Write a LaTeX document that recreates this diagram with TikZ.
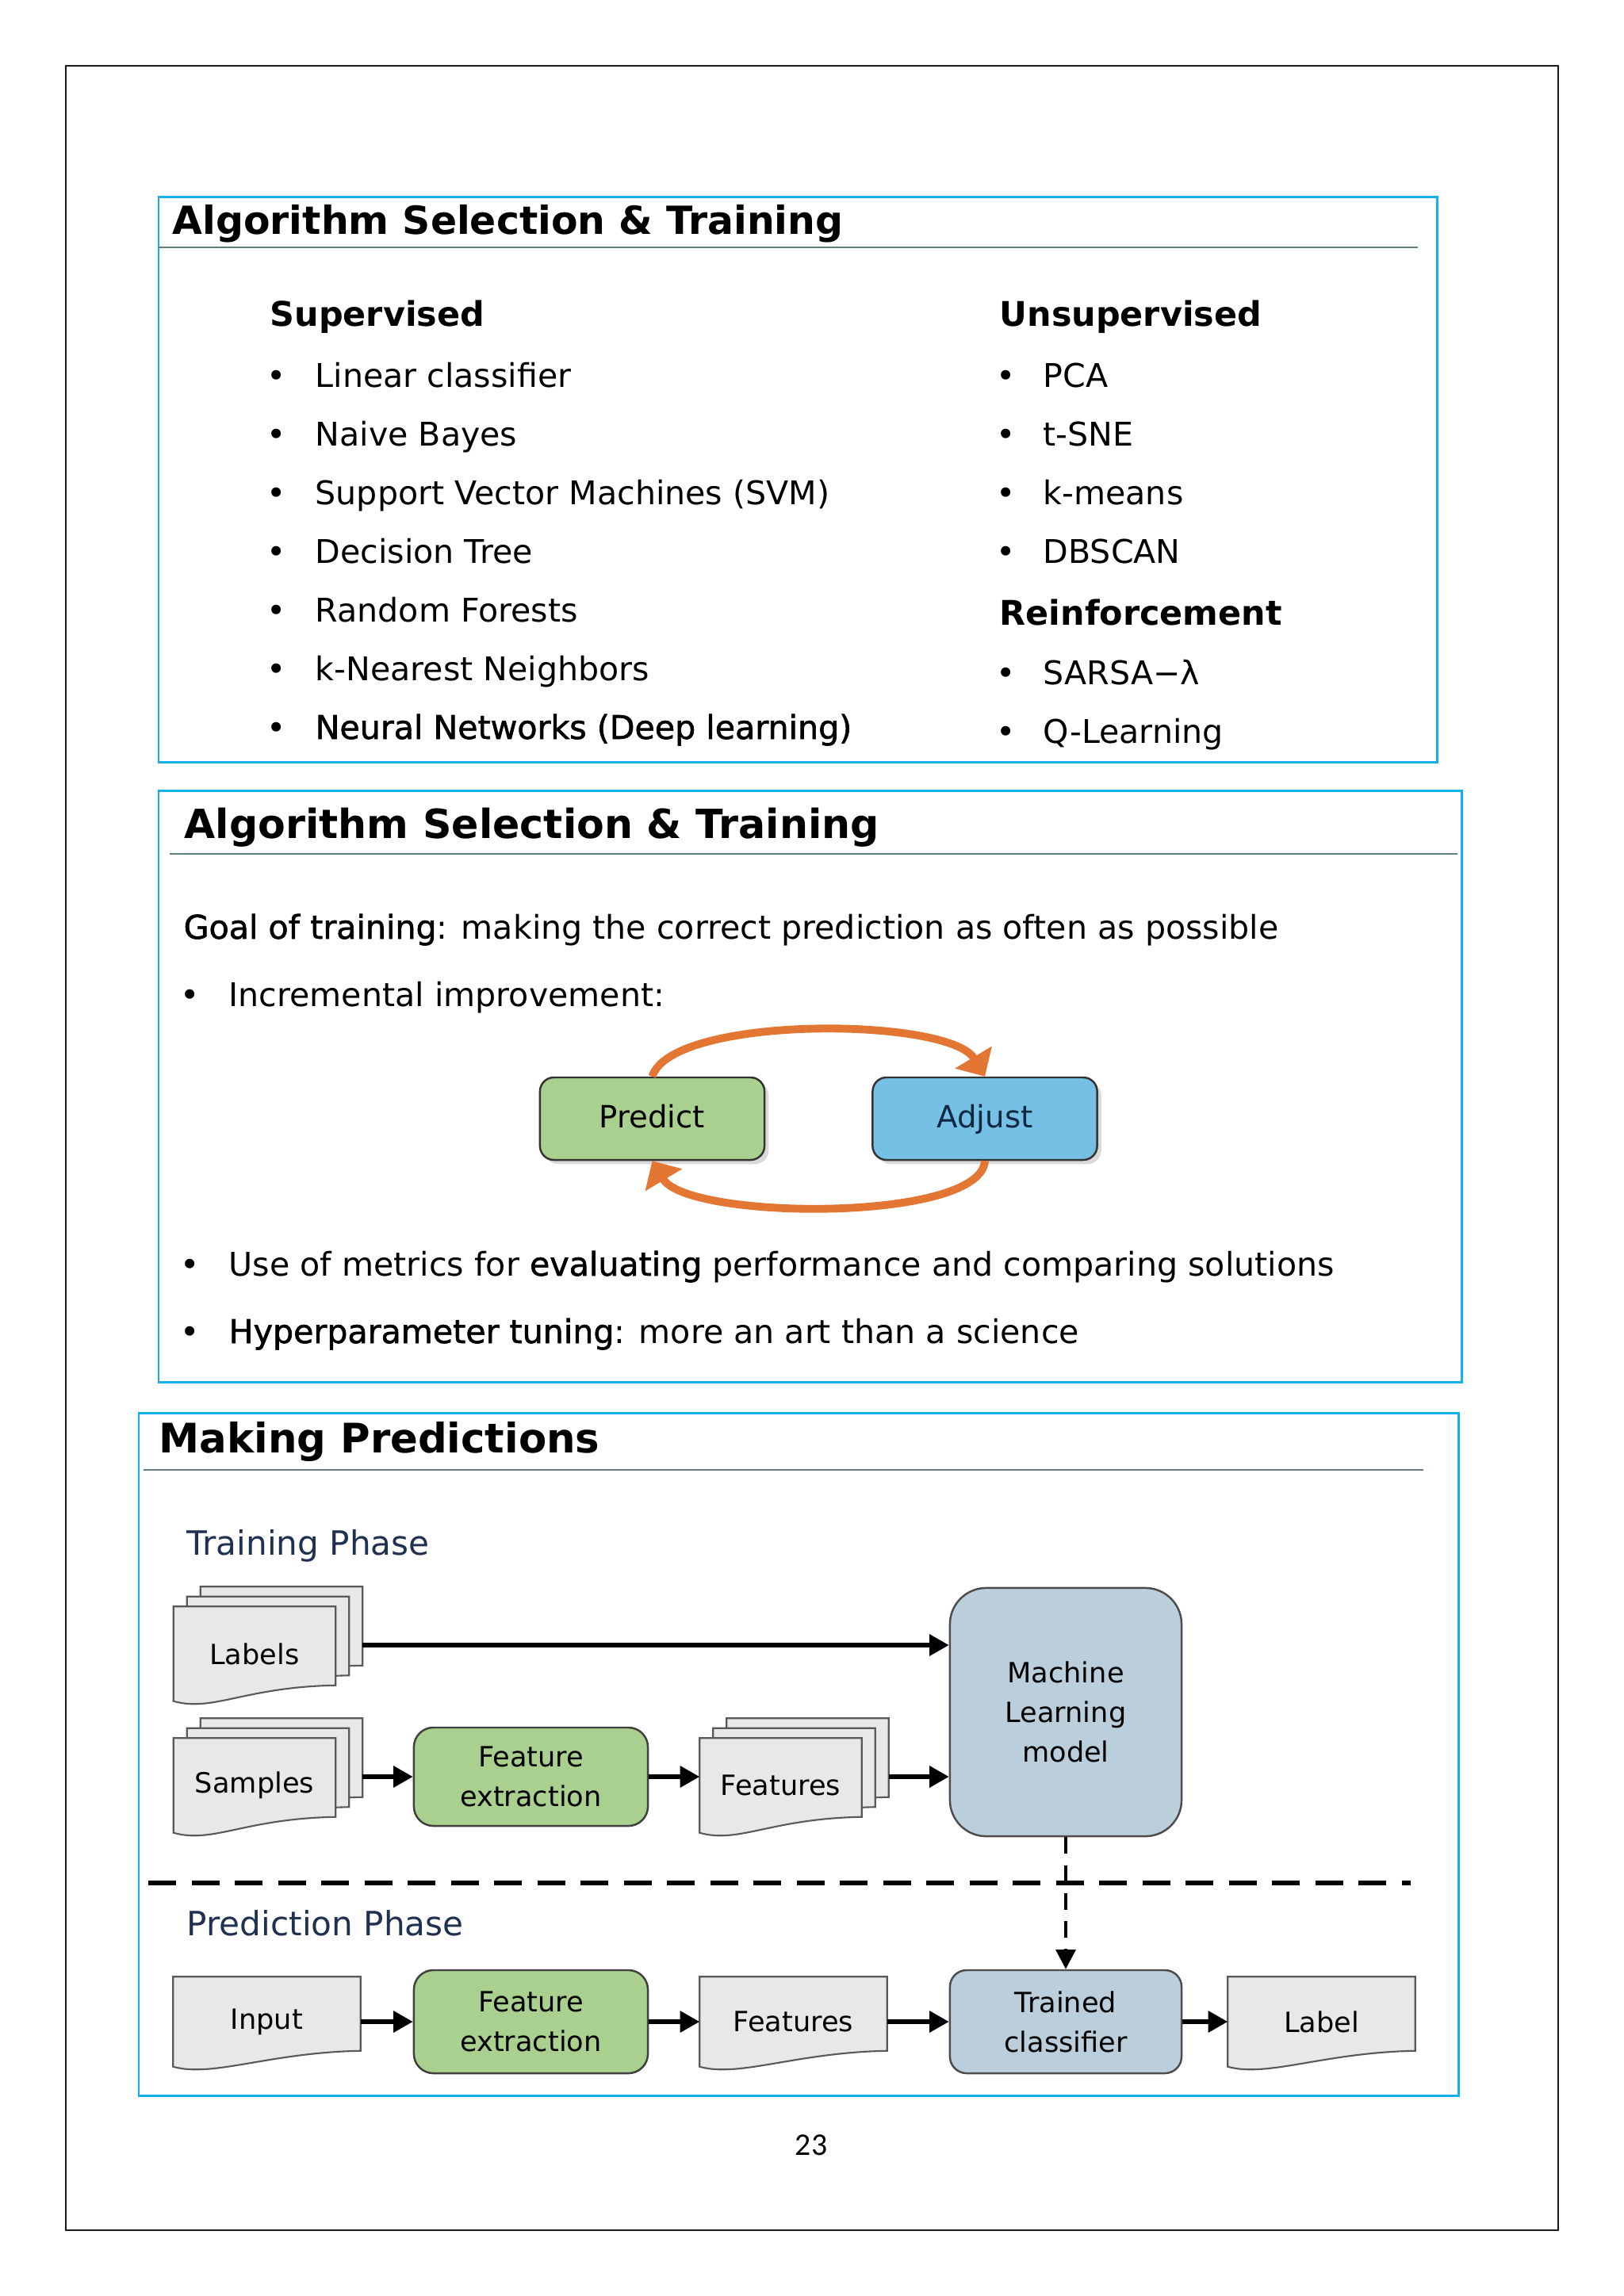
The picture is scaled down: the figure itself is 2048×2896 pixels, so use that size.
\documentclass[tikz,border=0pt]{standalone}
\usepackage{fontspec}
\setmainfont{DejaVu Sans}
\newfontfamily\semibf{DejaVu Sans}[FakeBold=1.5]
\newfontfamily\pagenofont{Carlito}
\usetikzlibrary{arrows.meta,shadows}
\pgfdeclarelayer{background}
\pgfsetlayers{background,main}

\definecolor{panelblue}{RGB}{20,176,236}
\definecolor{ruleteal}{RGB}{95,125,130}
\definecolor{predictgreen}{RGB}{169,208,142}
\definecolor{adjustblue}{RGB}{118,192,230}
\definecolor{loopor}{RGB}{226,118,50}
\definecolor{modelgray}{RGB}{186,206,219}
\definecolor{docgray}{RGB}{232,232,232}
\definecolor{phasenavy}{RGB}{31,48,80}
\definecolor{adjustnavy}{RGB}{14,40,65}

\tikzset{
  panel/.style={draw=panelblue, line width=0.85pt},
  titlerule/.style={draw=ruleteal, line width=0.7pt},
  ttl/.style={anchor=base west, inner sep=0pt, font=\bfseries\fontsize{#1}{#1}\selectfont},
  txt/.style={anchor=base west, inner sep=0pt, font=\fontsize{11.7}{14}\selectfont},
  bul/.style={anchor=base, inner sep=0pt, font=\fontsize{11.7}{14}\selectfont},
  head/.style={anchor=base west, inner sep=0pt, font=\bfseries\fontsize{12.2}{14}\selectfont},
  phase/.style={anchor=base west, inner sep=0pt, text=phasenavy, font=\fontsize{12}{14}\selectfont},
  loopbox/.style={draw=black!80, rounded corners=5pt, line width=0.7pt,
    minimum width=2.83cm, minimum height=1.04cm, text height=1.6ex, text depth=0.4ex,
    font=\fontsize{11}{13}\selectfont,
    drop shadow={shadow xshift=1.5pt, shadow yshift=-1.5pt, opacity=0.3}},
  looparrow/.style={draw=loopor, line width=2.8pt, -{Triangle[length=8pt,width=15pt]}},
  stepbox/.style={draw=black!75, fill=predictgreen, rounded corners=7pt, line width=0.7pt,
    minimum width=2.95cm, minimum height=1.24cm, align=center, font=\fontsize{10}{14}\selectfont},
  modelbox/.style={draw=black!70, fill=modelgray, line width=0.7pt, minimum width=2.92cm,
    align=center, font=\fontsize{10}{14.2}\selectfont},
  docedge/.style={draw=black!65, fill=docgray, line width=0.6pt},
  docpage/.style={minimum width=2.03cm, minimum height=1.18cm, inner sep=0pt,
    font=\fontsize{10}{12}\selectfont,
    append after command={\pgfextra{\let\docnode\tikzlastnode
      \begin{pgfonlayer}{background}
        \draw[docedge] (\docnode.north west) -- (\docnode.north east)
          -- ([yshift=0.2cm]\docnode.south east)
          .. controls ([xshift=-1.15cm,yshift=0.18cm]\docnode.south east)
          and ([xshift=0.5cm,yshift=-0.14cm]\docnode.south west) .. (\docnode.south west) -- cycle;
      \end{pgfonlayer}}}},
  widedoc/.style={docpage, minimum width=2.35cm, minimum height=1.12cm},
  flow/.style={line width=1.5pt, -{Triangle[length=7pt,width=7.5pt]}},
  phaseline/.style={line width=1.7pt, dash pattern=on 10pt off 5.5pt},
  modelflow/.style={line width=1.2pt, dash pattern=on 6pt off 4pt, -{Triangle[length=7pt,width=7pt]}}
}

\begin{document}
\begin{tikzpicture}[x=0.01cm,y=-0.01cm]
\useasboundingbox (0,0) rectangle (2048,2896);
\draw[line width=0.75pt, black!90] (83,83) rectangle (1965,2813);

% first slide
\draw[panel] (200,248) rectangle (1812,961);
\draw[titlerule] (200,312) -- (1788,312);
\node[ttl=13.9] (title1) at (217,295) {Algorithm Selection \& Training};
\node[head] (sup) at (340,411) {Supervised};
\foreach \txt [count=\i] in {Linear classifier, Naive Bayes, Support Vector Machines (SVM), Decision Tree, Random Forests, k-Nearest Neighbors} {
  \node[bul] (supb\i) at (349,{414+74*\i}) {\textbullet};
  \node[txt] (sup\i) at (397,{414+74*\i}) {\txt};
}
\node[bul] (supb7) at (349,932) {\textbullet};
\node[txt] (sup7) at (397,932) {\semibf Neural Networks (Deep learning)};
\node[head] (unsup) at (1260,411) {Unsupervised};
\foreach \txt [count=\i] in {PCA, t-SNE, k-means, DBSCAN} {
  \node[bul] (unsupb\i) at (1269,{414+74*\i}) {\textbullet};
  \node[txt] (unsup\i) at (1315,{414+74*\i}) {\txt};
}
\node[head] (reinf) at (1260,788) {Reinforcement};
\node[bul] (reinfb1) at (1269,863) {\textbullet};
\node[txt] (reinf1) at (1315,863) {SARSA−λ};
\node[bul] (reinfb2) at (1269,937) {\textbullet};
\node[txt] (reinf2) at (1315,937) {Q-Learning};

% second slide
\draw[panel] (200,997) rectangle (1843,1743);
\draw[titlerule] (214,1077) -- (1838,1077);
\node[ttl=14.4] (title2) at (232,1057) {Algorithm Selection \& Training};
\node[txt] (goal) at (231,1184) {{\semibf Goal of training}: making the correct prediction as often as possible};
\node[bul] (incb) at (240,1269) {\textbullet};
\node[txt] (inc) at (288,1269) {Incremental improvement:};
\node[bul] (metb) at (240,1609) {\textbullet};
\node[txt] (met) at (288,1609) {Use of metrics for {\semibf evaluating} performance and comparing solutions};
\node[bul] (hypb) at (240,1694) {\textbullet};
\node[txt] (hyp) at (288,1694) {{\semibf Hyperparameter tuning}: more an art than a science};

\node[loopbox, fill=predictgreen] (predict) at (822.5,1411) {Predict};
\node[loopbox, fill=adjustblue, text=adjustnavy] (adjust) at (1242,1411) {Adjust};
\draw[looparrow] (predict.north) .. controls +(25,-78) and +(-45,-75) .. (adjust.north);
\draw[looparrow] (adjust.south) .. controls +(-5,78) and +(45,75) .. (predict.south);

% third slide
\draw[panel] (175,1782) rectangle (1839,2643);
\draw[titlerule] (181,1854) -- (1795,1854);
\node[ttl=14.6] (title3) at (200,1832) {Making Predictions};
\node[phase] (trainph) at (235,1961) {Training Phase};
\node[phase] (predph) at (235,2441) {Prediction Phase};

\foreach \nm/\cx/\cy/\lbl in {labels/321/2086/Labels, samples/321/2252/Samples, feats/984.5/2252/Features} {
  \node[docpage] (\nm3) at ({\cx+34},{\cy-25}) {};
  \node[docpage] (\nm2) at ({\cx+17},{\cy-12.5}) {};
  \node[docpage] (\nm) at (\cx,\cy) {\lbl};
}
\node[stepbox] (fetrain) at (669.5,2241) {Feature\\extraction};
\node[modelbox, minimum height=3.13cm, rounded corners=13pt] (ml) at (1344,2159.5) {Machine\\Learning\\model};

\coordinate (labtip) at ([yshift=-0.14cm]labels3.east);
\draw[flow] (labtip) -- (labtip -| ml.west);
\draw[flow] (fetrain.west -| samples3.east) -- (fetrain.west);
\draw[flow] (fetrain.east) -- (fetrain.east -| feats.west);
\draw[flow] (fetrain.east -| feats3.east) -- (fetrain.east -| ml.west);

\draw[phaseline] (187,2375) -- (1779,2375);

\node[widedoc] (input) at (336.5,2550) {Input};
\node[stepbox, minimum height=1.3cm] (fepred) at (669.5,2550) {Feature\\extraction};
\node[widedoc] (featp) at (1000.5,2550) {Features};
\node[modelbox, minimum height=1.3cm, rounded corners=6pt] (tc) at (1344,2550) {Trained\\classifier};
\node[widedoc] (label) at (1666.5,2550) {Label};

\draw[modelflow] (ml.south) -- (tc.north);
\draw[flow] (input.east) -- (fepred.west);
\draw[flow] (fepred.east) -- (featp.west);
\draw[flow] (featp.east) -- (tc.west);
\draw[flow] (tc.east) -- (label.west);

\node[font=\pagenofont\fontsize{11.3}{13}\selectfont] (pageno) at (1023,2706) {23};
\end{tikzpicture}
\end{document}
